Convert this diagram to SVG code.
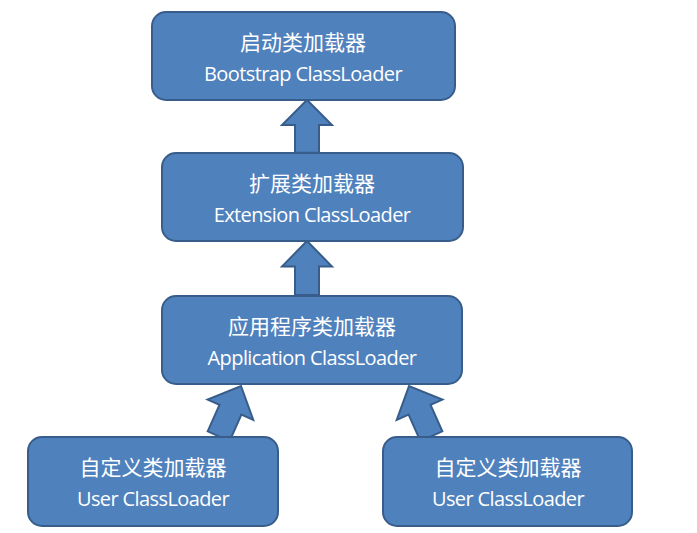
<svg xmlns="http://www.w3.org/2000/svg" width="697" height="533" viewBox="0 0 697 533">
<defs>
<style>
.box{fill:#4f81bd;stroke:#385d8a;stroke-width:2}
.arr{fill:#4f81bd;stroke:#385d8a;stroke-width:2;stroke-linejoin:miter}
text{fill:#fff;text-anchor:middle;font-size:21px}
.zh{font-family:"Noto Sans CJK SC","Noto Sans",sans-serif;font-size:21px}
.en{font-family:"Open Sans","Liberation Sans",sans-serif;font-size:20px;letter-spacing:-0.6px}
</style>
<path id="up" d="M-12,55 L-12,26 L-25,26 L0,0 L25,26 L12,26 L12,55 Z"/>
</defs>
<rect width="697" height="533" fill="#fff"/>
<g id="connectors">
<use href="#up" class="arr" transform="translate(307,100) scale(1,0.96)"/>
<use href="#up" class="arr" transform="translate(307,241) scale(1,0.98)"/>
<use href="#up" class="arr" transform="translate(241,386) rotate(24)"/>
<use href="#up" class="arr" transform="translate(409,386) rotate(-24)"/>
</g>
<g id="bootstrap">
<rect class="box" x="152" y="12" width="303" height="88" rx="14"/>
<text class="zh" x="303" y="50">启动类加载器</text>
<text class="en" x="303" y="81">Bootstrap ClassLoader</text>
</g>
<g id="extension">
<rect class="box" x="162" y="153" width="301" height="88" rx="14"/>
<text class="zh" x="312" y="191">扩展类加载器</text>
<text class="en" x="312" y="222">Extension ClassLoader</text>
</g>
<g id="application">
<rect class="box" x="162" y="296" width="300" height="88" rx="14"/>
<text class="zh" x="312" y="334">应用程序类加载器</text>
<text class="en" x="312" y="365">Application ClassLoader</text>
</g>
<g id="user1">
<rect class="box" x="28" y="437" width="250" height="89" rx="14"/>
<text class="zh" x="153" y="475">自定义类加载器</text>
<text class="en" x="153" y="506">User ClassLoader</text>
</g>
<g id="user2">
<rect class="box" x="383" y="437" width="249" height="89" rx="14"/>
<text class="zh" x="508" y="475">自定义类加载器</text>
<text class="en" x="508" y="506">User ClassLoader</text>
</g>
</svg>
